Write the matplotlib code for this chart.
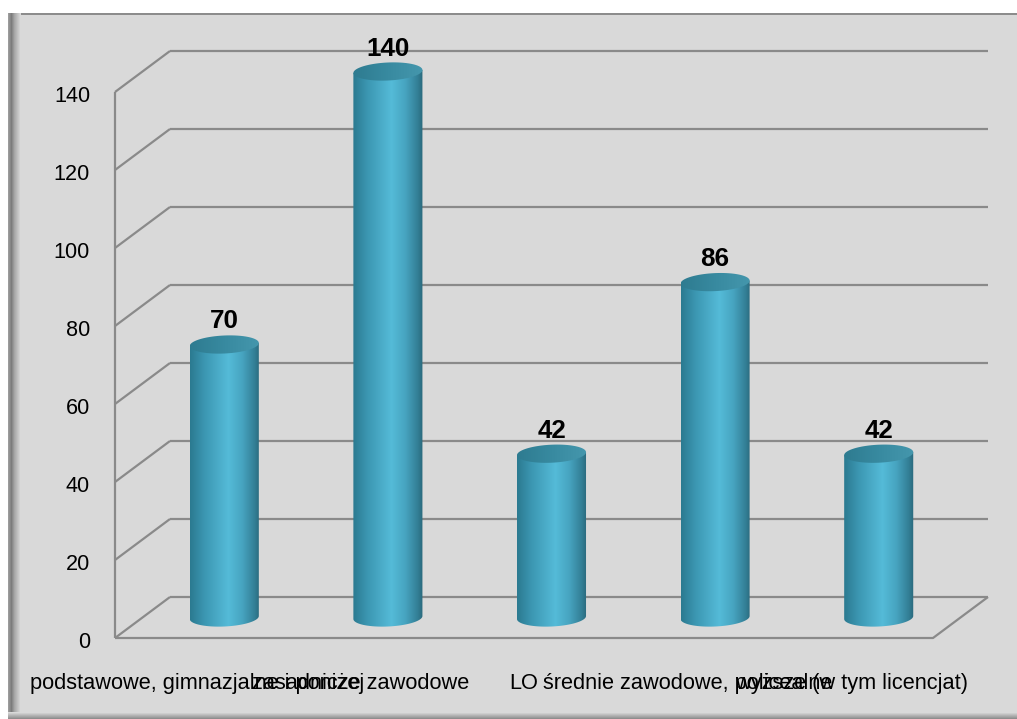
import matplotlib
matplotlib.use("Agg")
import matplotlib.pyplot as plt
from matplotlib import font_manager
from matplotlib.patches import Rectangle, Polygon
import matplotlib.colors as mcolors
import numpy as np

categories = ["podstawowe, gimnazjalne i poniżej", "zasadnicze zawodowe", "LO",
              "średnie zawodowe, policealne", "wyższe (w tym licencjat)"]
values = [70, 140, 42, 86, 42]
y_ticks = [0, 20, 40, 60, 80, 100, 120, 140]

W, H = 1017, 719
PANEL = "#d9d9d9"
GRID = "#8a8a8a"


def narrow_font():
    for name in ["Liberation Sans Narrow", "Arial Narrow"]:
        try:
            font_manager.findfont(font_manager.FontProperties(family=name),
                                  fallback_to_default=False)
            return name
        except ValueError:
            pass
    return None


def ramp(stops, u):
    # stops: list of (position, colour); returns rgb for each u
    pos = [s[0] for s in stops]
    rgb = np.array([mcolors.to_rgb(s[1]) for s in stops])
    return np.stack([np.interp(u, pos, rgb[:, k]) for k in range(3)], axis=1)


fig = plt.figure(figsize=(W / 100, H / 100), dpi=100)
fig.patch.set_facecolor("white")

# grey chart panel with shaded left and bottom edges
fig.patches.append(Rectangle((8 / W, 6 / H), (W - 8) / W, (H - 19) / H,
                             transform=fig.transFigure, facecolor=PANEL,
                             edgecolor="none", zorder=-3))
fig.patches.append(Rectangle((8 / W, (H - 15) / H), (W - 8) / W, 2 / H,
                             transform=fig.transFigure, facecolor="#8c8c8c",
                             edgecolor="none", zorder=-2))
shade = ramp([(0, "#9c9c9c"), (0.25, "#7c7c7c"), (0.5, "#a6a6a6"), (1, PANEL)],
             np.linspace(0, 1, 13))
for k, c in enumerate(shade):
    fig.patches.append(Rectangle(((8 + k) / W, 6 / H), 1 / W, (H - 19) / H,
                                 transform=fig.transFigure, facecolor=c,
                                 edgecolor="none", zorder=-2))
bottom = ramp([(0, PANEL), (1, "#8e8e8e")], np.linspace(0, 1, 7))
for k, c in enumerate(bottom):
    fig.patches.append(Rectangle((8 / W, (6 - k) / H), (W - 8) / W, 1 / H,
                                 transform=fig.transFigure, facecolor=c,
                                 edgecolor="none", zorder=-2))

# axes = front face of the 3D box
x_lo, x_hi = -0.5, len(categories) - 0.5
ax = fig.add_axes([115 / W, 81 / H, 818 / W, 546 / H])
ax.set_axis_off()

px_x = ax.bbox.width / (x_hi - x_lo)
px_y = ax.bbox.height / 140
dx = 55 / px_x   # depth of the box in data units
dy = 41 / px_y

line_kw = dict(color=GRID, lw=1.6, clip_on=False, zorder=1, solid_capstyle="butt")
for v in y_ticks:
    ax.plot([x_lo + dx, x_hi + dx], [v + dy, v + dy], **line_kw)
    ax.plot([x_lo, x_lo + dx], [v, v + dy], **line_kw)
ax.plot([x_lo, x_lo], [0, y_ticks[-1]], **line_kw)
ax.plot([x_lo, x_hi, x_hi + dx], [0, 0, dy], **line_kw)

tick_font = dict(family="Liberation Sans", size=15.6, color="black")
for v in y_ticks:
    ax.text(x_lo - 25 / px_x, v - 10.5 / px_y, str(v), ha="right", va="baseline",
            clip_on=False, **tick_font)

# cylinders: gradient images clipped to the body / lid outlines
r = 0.211
b = 9 / px_y
tilt = 1.5 / px_y
body_stops = [(-1, "#2b7a90"), (-0.6, "#3b96b1"), (0.1, "#55bbd8"),
              (0.5, "#47a4c0"), (0.85, "#337f96"), (1, "#2a697b")]
top_stops = [(-1, "#2e7b90"), (0, "#388aa0"), (1, "#4597ad")]
u = np.linspace(-1, 1, 256)
body_img = ramp(body_stops, u)[np.newaxis, :, :]
top_img = ramp(top_stops, u)[np.newaxis, :, :]
t = np.linspace(np.pi, 2 * np.pi, 120)

for i, v in enumerate(values):
    cx = i + dx / 2
    cy = dy / 2
    # front half of the base ellipse, then straight up to the lid
    bx = cx + r * np.cos(t)
    by = cy + b * np.sin(t) + tilt * np.cos(t)
    body_xy = np.column_stack([np.r_[bx, cx + r, cx - r],
                               np.r_[by, cy + v + tilt, cy + v - tilt]])
    body_clip = Polygon(body_xy, closed=True, transform=ax.transData,
                        facecolor="none", edgecolor="none")
    im = ax.imshow(body_img, extent=[cx - r, cx + r, cy - b - tilt, cy + v + tilt],
                   aspect="auto", interpolation="bilinear", zorder=3)
    im.set_clip_path(body_clip)
    im.set_clip_box(fig.bbox)

    tt = np.linspace(0, 2 * np.pi, 200)
    lid_xy = np.column_stack([cx + r * np.cos(tt),
                              cy + v + b * np.sin(tt) + tilt * np.cos(tt)])
    lid_clip = Polygon(lid_xy, closed=True, transform=ax.transData,
                       facecolor="none", edgecolor="none")
    im = ax.imshow(top_img, extent=[cx - r, cx + r, cy + v - b - tilt, cy + v + b + tilt],
                   aspect="auto", interpolation="bilinear", zorder=4)
    im.set_clip_path(lid_clip)
    im.set_clip_box(fig.bbox)

    ax.text(cx, cy + v + 16 / px_y, str(v), ha="center", va="baseline",
            family="Liberation Sans", weight="bold", size=18.7, clip_on=False, zorder=5)

narrow = narrow_font()
if narrow:
    cat_font = dict(family=narrow, size=19.1)
else:
    cat_font = dict(family="Liberation Sans", size=15.7)
for i, name in enumerate(categories):
    ax.text(i, -51 / px_y, name, ha="center", va="baseline", clip_on=False,
            color="black", **cat_font)

ax.set_xlim(x_lo, x_hi)
ax.set_ylim(0, 140)
fig.savefig("out.png", dpi=100)
